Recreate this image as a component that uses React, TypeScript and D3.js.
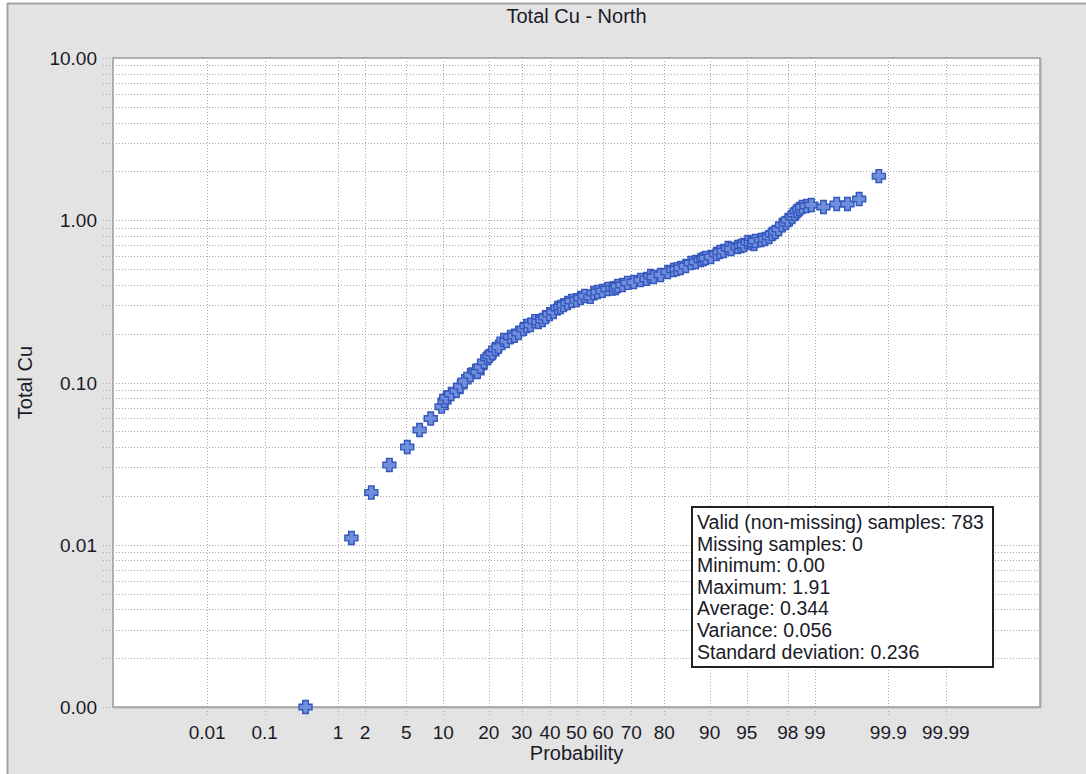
import * as d3 from 'd3';

// probability (%) of each plotted sample
const PROB = [
  0.39, 1.42, 2.32, 3.5, 5.1, 6.5, 8.0, 9.7, 10.2, 10.5, 11.4, 12.4, 13.2, 14.1, 15.4,
  16.6, 17.1, 17.8, 18.8, 19.6, 20.2, 21.0, 21.8, 22.7, 24.2, 25.1, 26.3, 27.6, 28.9,
  30.6, 31.6, 33.0, 34.4, 35.8, 37.2, 38.3, 39.8, 41.3, 42.8, 43.9, 45.1, 46.6, 48.1,
  50.0, 51.5, 53.1, 55.3, 56.5, 58.0, 59.8, 61.7, 63.5, 64.6, 65.3, 67.0, 68.7, 70.8,
  73.0, 74.9, 76.1, 77.0, 79.0, 80.9, 82.4, 83.2, 84.1, 85.3, 86.4, 87.4, 88.4, 88.9,
  89.3, 90.2, 91.1, 91.6, 92.2, 92.8, 93.2, 94.0, 94.4, 94.7, 95.1, 95.4, 95.7, 95.8,
  96.3, 96.6, 96.9, 97.1, 97.3, 97.5, 97.7, 97.9, 98.0, 98.2, 98.3, 98.4, 98.5, 98.6,
  98.75, 98.9, 99.21, 99.46, 99.61, 99.73, 99.86,
];
// Total Cu grade for each point (0.00 shown on the 0.001 floor)
const CU = [
  0.001, 0.011, 0.021, 0.031, 0.040, 0.051, 0.060, 0.071, 0.077, 0.081, 0.085, 0.089, 0.095, 0.102, 0.111,
  0.118, 0.116, 0.125, 0.134, 0.142, 0.146, 0.152, 0.161, 0.166, 0.183, 0.180, 0.191, 0.194, 0.202,
  0.214, 0.223, 0.226, 0.239, 0.236, 0.243, 0.253, 0.264, 0.272, 0.288, 0.292, 0.300, 0.309, 0.318,
  0.322, 0.332, 0.341, 0.337, 0.356, 0.361, 0.367, 0.377, 0.380, 0.382, 0.393, 0.399, 0.411, 0.416,
  0.428, 0.435, 0.453, 0.447, 0.460, 0.480, 0.494, 0.500, 0.508, 0.522, 0.545, 0.553, 0.569, 0.577,
  0.585, 0.594, 0.619, 0.637, 0.646, 0.675, 0.665, 0.684, 0.694, 0.704, 0.734, 0.724, 0.714, 0.745,
  0.756, 0.766, 0.789, 0.823, 0.847, 0.883, 0.935, 0.962, 1.003, 1.047, 1.093, 1.14, 1.173, 1.207,
  1.224, 1.242, 1.207, 1.259, 1.259, 1.352, 1.87,
];

const X_TICKS = [0.01, 0.1, 1, 2, 5, 10, 20, 30, 40, 50, 60, 70, 80, 90, 95, 98, 99, 99.9, 99.99];
const Y_LABELS = [0.001, 0.01, 0.1, 1, 10];

const STATS = [
  'Valid (non-missing) samples: 783',
  'Missing samples: 0',
  'Minimum: 0.00',
  'Maximum: 1.91',
  'Average: 0.344',
  'Variance: 0.056',
  'Standard deviation: 0.236',
];

const W = 1086;
const H = 774;
const plot = { left: 113, top: 58, right: 1040, bottom: 707 };
const FONT = '"Liberation Sans", Arial, sans-serif';
const TXT = '#1a1a28';

// inverse normal cdf (Acklam)
const probit = (p: number) => {
  const a = [-39.69683028665376, 220.9460984245205, -275.9285104469687, 138.357751867269, -30.66479806614716, 2.506628277459239];
  const b = [-54.47609879822406, 161.5858368580409, -155.6989798598866, 66.80131188771972, -13.28068155288572];
  const c = [-0.007784894002430293, -0.3223964580411365, -2.400758277161838, -2.549732539343734, 4.374664141464968, 2.938163982698783];
  const d = [0.007784695709041462, 0.3224671290700398, 2.445134137142996, 3.754408661907416];
  const lo = 0.02425;
  if (p < lo) {
    const q = Math.sqrt(-2 * Math.log(p));
    return (((((c[0] * q + c[1]) * q + c[2]) * q + c[3]) * q + c[4]) * q + c[5]) /
      ((((d[0] * q + d[1]) * q + d[2]) * q + d[3]) * q + 1);
  }
  if (p > 1 - lo) {
    const q = Math.sqrt(-2 * Math.log(1 - p));
    return -(((((c[0] * q + c[1]) * q + c[2]) * q + c[3]) * q + c[4]) * q + c[5]) /
      ((((d[0] * q + d[1]) * q + d[2]) * q + d[3]) * q + 1);
  }
  const q = p - 0.5;
  const r = q * q;
  return (((((a[0] * r + a[1]) * r + a[2]) * r + a[3]) * r + a[4]) * r + a[5]) * q /
    (((((b[0] * r + b[1]) * r + b[2]) * r + b[3]) * r + b[4]) * r + 1);
};

// the probability axis is slightly squeezed in the tails
const warp = (z: number) => z * (1 - 0.0036 * z * z);

const xLin = d3.scaleLinear().domain([-4.435, 4.435]).range([plot.left, plot.right]);
const x = (pct: number) => xLin(warp(probit(pct / 100)));
const y = d3.scaleLog().domain([0.001, 10]).range([plot.bottom, plot.top]);

const yGrid: number[] = [];
[0.001, 0.01, 0.1, 1].forEach(dec => d3.range(1, 10).forEach(m => yGrid.push(dec * m)));
yGrid.push(10);

const fmt = d3.format('.2f');
const plus = 'M-2.8,-6.5H2.8V-2.8H6.5V2.8H2.8V6.5H-2.8V2.8H-6.5V-2.8H-2.8Z';

export default function App() {
  const pts = PROB.map((p, i) => ({ p, v: CU[i] }));
  return (
    <svg width={W} height={H} style={{ position: 'absolute', left: 0, top: 0, background: '#fff' }}>
      <rect x={7} y={3} width={W - 7} height={H - 3} fill="#e3e3e3" />
      <line x1={7} x2={W} y1={3.5} y2={3.5} stroke="#a3a3a3" strokeWidth={2} />
      <line x1={7.5} x2={7.5} y1={3} y2={H} stroke="#a3a3a3" strokeWidth={2} />

      <text x={(plot.left + plot.right) / 2} y={23} textAnchor="middle" fontFamily={FONT} fontSize={20} fill={TXT}>
        Total Cu - North
      </text>

      {/* plot area */}
      <rect x={plot.left + 1} y={plot.top + 1} width={plot.right - plot.left} height={plot.bottom - plot.top} fill="none" stroke="#c4c4c4" strokeWidth={1.5} />
      <rect x={plot.left} y={plot.top} width={plot.right - plot.left} height={plot.bottom - plot.top} fill="#fff" stroke="#9a9a9a" strokeWidth={1.5} />

      {/* grid */}
      <g stroke="#a8a8a8" strokeWidth={1} strokeDasharray="1 2">
        {yGrid.map(v => (
          <g key={`y${v}`}>
            <line x1={plot.left} x2={plot.right} y1={Math.round(y(v)) + 0.5} y2={Math.round(y(v)) + 0.5} />
            <line x1={103} x2={110} y1={Math.round(y(v)) + 0.5} y2={Math.round(y(v)) + 0.5} />
          </g>
        ))}
        {X_TICKS.map(t => (
          <g key={`x${t}`}>
            <line x1={Math.round(x(t)) + 0.5} x2={Math.round(x(t)) + 0.5} y1={plot.top} y2={plot.bottom} />
            <line x1={Math.round(x(t)) + 0.5} x2={Math.round(x(t)) + 0.5} y1={711} y2={717} />
          </g>
        ))}
      </g>

      {/* y labels */}
      <g fontFamily={FONT} fontSize={19} fill={TXT} textAnchor="end">
        {Y_LABELS.map(v => (
          <text key={v} x={97} y={y(v) + 7}>{fmt(v)}</text>
        ))}
      </g>
      {/* x labels */}
      <g fontFamily={FONT} fontSize={19} fill={TXT} textAnchor="middle">
        {X_TICKS.map(t => (
          <text key={t} x={x(t)} y={739}>{String(t)}</text>
        ))}
      </g>
      <text x={(plot.left + plot.right) / 2} y={760} textAnchor="middle" fontFamily={FONT} fontSize={20} fill={TXT}>
        Probability
      </text>
      <text transform={`translate(32,${(plot.top + plot.bottom) / 2}) rotate(-90)`} textAnchor="middle" fontFamily={FONT} fontSize={20} fill={TXT}>
        Total Cu
      </text>

      {/* samples */}
      <g>
        {pts.map((d, i) => (
          <path key={i} d={plus} transform={`translate(${x(d.p)},${y(d.v)})`} fill="#6f8fdc" stroke="#3457bd" strokeWidth={1.4} />
        ))}
      </g>

      {/* statistics box */}
      <rect x={692} y={507} width={301} height={160} fill="#fff" stroke="#222" strokeWidth={2} />
      <g fontFamily={FONT} fontSize={19.5} fill={TXT}>
        {STATS.map((s, i) => (
          <text key={s} x={697} y={529 + i * 21.6}>{s}</text>
        ))}
      </g>
    </svg>
  );
}
